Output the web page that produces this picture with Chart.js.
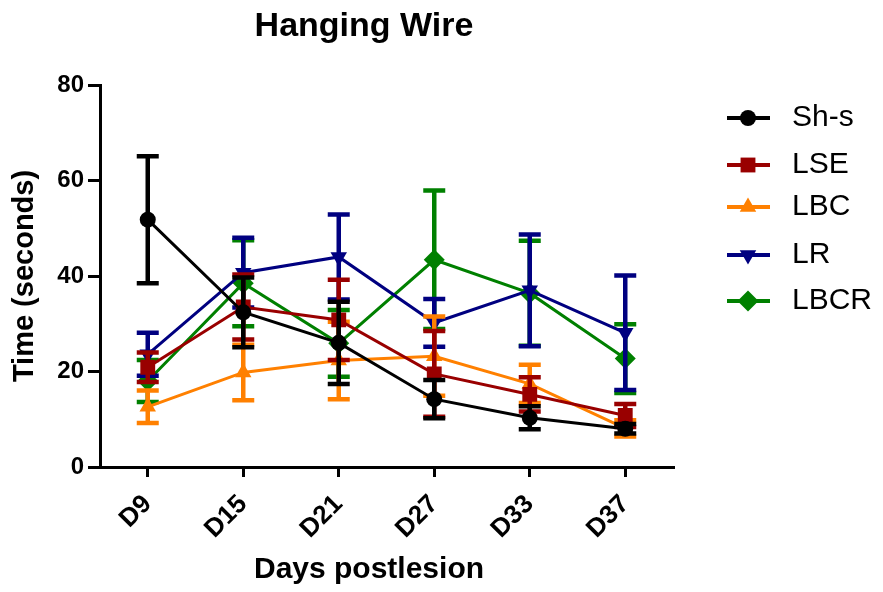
<!DOCTYPE html>
<html>
<head>
<meta charset="utf-8">
<script src="https://cdn.jsdelivr.net/npm/chart.js@4/dist/chart.umd.min.js"></script>
<style>
  html, body { margin: 0; padding: 0; background: #fff; }
  #wrap { width: 883px; height: 592px; }
</style>
</head>
<body>
<div id="wrap"><canvas id="wire" width="883" height="592"></canvas></div>
<script>
// data (mean, sd)
const days = ["D9", "D15", "D21", "D27", "D33", "D37"];
const yTicks = [0, 20, 40, 60, 80];

const shsMean = [51.8, 32.4, 26.0, 14.2, 10.3, 8.0];
const shsSd = [13.3, 7.3, 8.6, 4.0, 2.4, 1.0];
const lseMean = [20.9, 33.5, 30.8, 19.5, 15.2, 10.8];
const lseSd = [3.1, 6.8, 8.4, 9.0, 3.6, 2.4];
const lbcMean = [12.6, 19.8, 22.3, 23.2, 17.4, 8.1];
const lbcSd = [3.4, 5.8, 8.1, 8.3, 4.0, 1.7];
const lrMean = [23.6, 40.7, 44.0, 30.2, 37.0, 28.1];
const lrSd = [4.5, 7.3, 8.9, 5.0, 11.7, 12.0];
const lbcrMean = [18.0, 38.5, 25.9, 43.4, 36.4, 22.7];
const lbcrSd = [4.4, 9.0, 7.0, 14.5, 11.0, 7.2];

function series(label, data, sd, color, style, radius, rotation) {
  return {
    label: label,
    data: data,
    sd: sd,
    borderColor: color,
    backgroundColor: color,
    borderWidth: 3,
    pointStyle: style,
    pointRadius: radius,
    pointRotation: rotation || 0,
    pointBorderWidth: 0,
    pointBackgroundColor: color,
    tension: 0
  };
}

const datasets = [
  series("Sh-s", shsMean, shsSd, "#000000", "circle", 8),
  series("LSE", lseMean, lseSd, "#990000", "rect", 10.5),
  series("LBC", lbcMean, lbcSd, "#ff8000", "triangle", 9.5),
  series("LR", lrMean, lrSd, "#000080", "triangle", 9.5, 180),
  series("LBCR", lbcrMean, lbcrSd, "#008000", "rectRot", 10.5)
];

// error bars, drawn under each dataset's own line and markers
const errorBars = {
  id: "errorBars",
  beforeDatasetDraw(chart, args) {
    const ds = chart.data.datasets[args.index];
    const meta = args.meta;
    const y = chart.scales.y;
    const ctx = chart.ctx;
    ctx.save();
    ctx.strokeStyle = ds.borderColor;
    ctx.lineWidth = 4.5;
    meta.data.forEach((pt, i) => {
      const top = y.getPixelForValue(ds.data[i] + ds.sd[i]);
      const bot = y.getPixelForValue(ds.data[i] - ds.sd[i]);
      ctx.beginPath();
      ctx.moveTo(pt.x, top);
      ctx.lineTo(pt.x, bot);
      ctx.moveTo(pt.x - 11, top);
      ctx.lineTo(pt.x + 11, top);
      ctx.moveTo(pt.x - 11, bot);
      ctx.lineTo(pt.x + 11, bot);
      ctx.stroke();
    });
    ctx.restore();
  }
};

// title, x title and the legend at the right
const decorations = {
  id: "decorations",
  afterDraw(chart) {
    const ctx = chart.ctx;
    ctx.save();
    ctx.fillStyle = "#000";
    ctx.textAlign = "center";
    ctx.textBaseline = "middle";
    ctx.font = "bold 34px 'Liberation Sans', Arial, sans-serif";
    ctx.fillText("Hanging Wire", 364, 27);
    ctx.font = "bold 30px 'Liberation Sans', Arial, sans-serif";
    ctx.fillText("Days postlesion", 369, 570);

    const rows = [118, 165, 207, 255, 301];
    ctx.textAlign = "left";
    ctx.font = "30px 'Liberation Sans', Arial, sans-serif";
    chart.data.datasets.forEach((ds, i) => {
      const yy = rows[i];
      ctx.strokeStyle = ds.borderColor;
      ctx.fillStyle = ds.borderColor;
      ctx.lineWidth = 4;
      ctx.beginPath();
      ctx.moveTo(727, yy);
      ctx.lineTo(770, yy);
      ctx.stroke();
      Chart.helpers.drawPoint(ctx, {
        pointStyle: ds.pointStyle,
        rotation: ds.pointRotation,
        radius: ds.pointRadius,
        borderWidth: 0
      }, 748, yy);
      ctx.fillStyle = "#000";
      ctx.fillText(ds.label, 792, yy);
    });
    ctx.restore();
  }
};

new Chart(document.getElementById("wire"), {
  type: "line",
  data: { labels: days, datasets: datasets },
  options: {
    responsive: false,
    animation: false,
    layout: { padding: { top: 85, right: 210, bottom: 0, left: 0 } },
    plugins: {
      legend: { display: false },
      title: { display: false },
      tooltip: { enabled: false }
    },
    scales: {
      x: {
        offset: true,
        afterFit(scale) { scale.height = 125; },
        grid: {
          offset: false,
          drawOnChartArea: false,
          color: "#000",
          lineWidth: 3,
          tickLength: 10
        },
        border: { color: "#000", width: 3 },
        ticks: {
          color: "#000",
          font: { family: "'Liberation Sans', Arial, sans-serif", size: 26, weight: "bold" },
          minRotation: 45,
          maxRotation: 45,
          padding: 12
        }
      },
      y: {
        min: 0,
        max: 80,
        afterFit(scale) { scale.width = 100; },
        afterBuildTicks(scale) { scale.ticks = yTicks.map(v => ({ value: v })); },
        grid: {
          drawOnChartArea: false,
          color: "#000",
          lineWidth: 3,
          tickLength: 12
        },
        border: { color: "#000", width: 3 },
        ticks: {
          color: "#000",
          font: { family: "'Liberation Sans', Arial, sans-serif", size: 24, weight: "bold" },
          padding: 4
        },
        title: {
          display: true,
          text: "Time (seconds)",
          color: "#000",
          font: { family: "'Liberation Sans', Arial, sans-serif", size: 29, weight: "bold" },
          padding: { top: 8, bottom: 0 }
        }
      }
    }
  },
  plugins: [errorBars, decorations]
});
</script>
</body>
</html>
